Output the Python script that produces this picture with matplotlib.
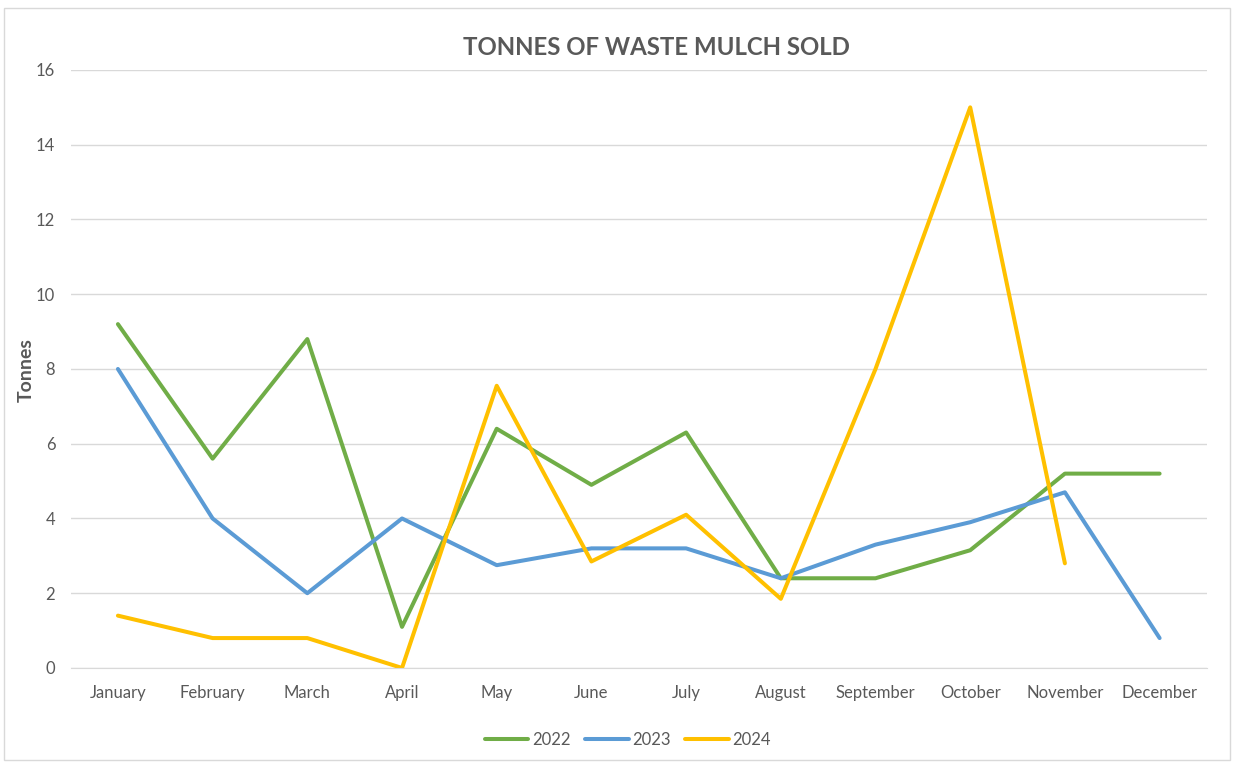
import matplotlib
matplotlib.use("Agg")
import matplotlib.pyplot as plt
from matplotlib.patches import Rectangle

plt.rcParams['font.family'] = ['Lato', 'DejaVu Sans']

# ---------------- data ----------------
months = ["January", "February", "March", "April", "May", "June",
          "July", "August", "September", "October", "November", "December"]
tonnes_2022 = [9.2, 5.6, 8.8, 1.1, 6.4, 4.9, 6.3, 2.4, 2.4, 3.15, 5.2, 5.2]
tonnes_2023 = [8.0, 4.0, 2.0, 4.0, 2.75, 3.2, 3.2, 2.4, 3.3, 3.9, 4.7, 0.8]
tonnes_2024 = [1.4, 0.8, 0.8, 0.0, 7.55, 2.85, 4.1, 1.85, 8.0, 15.0, 2.8]
y_ticks = [0, 2, 4, 6, 8, 10, 12, 14, 16]

grey_txt = "#595959"
grid_col = "#D9D9D9"

fig = plt.figure(figsize=(12.36, 7.64), dpi=100)
ax = fig.add_axes([0.0571, 0.1257, 0.9194, 0.7827])

# chart area border
fig.patches.append(Rectangle((0.003, 0.005), 0.992, 0.984, transform=fig.transFigure,
                             fill=False, edgecolor="#D9D9D9", linewidth=1))

x = list(range(len(months)))
ax.plot(x, tonnes_2022, color="#70AD47", lw=2.9, label="2022", solid_capstyle="round", solid_joinstyle="round")
ax.plot(x, tonnes_2023, color="#5B9BD5", lw=2.9, label="2023", solid_capstyle="round", solid_joinstyle="round")
ax.plot(x[:len(tonnes_2024)], tonnes_2024, color="#FFC000", lw=2.9, label="2024",
        solid_capstyle="round", solid_joinstyle="round")

ax.set_xlim(-0.5, len(months) - 0.5)
ax.set_ylim(0, 16)
ax.set_yticks(y_ticks)
ax.set_xticks(x)
ax.set_xticklabels(months)
ax.yaxis.grid(True, color=grid_col, lw=1)
ax.set_axisbelow(True)
for s in ["top", "right", "left"]:
    ax.spines[s].set_visible(False)
ax.spines["bottom"].set_color(grid_col)
ax.tick_params(axis="both", length=0, colors=grey_txt, labelsize=12)
ax.tick_params(axis="x", pad=12)
ax.tick_params(axis="y", pad=11)

# y axis title
fig.text(26 / 1236, 1 - 370 / 764, "Tonnes", rotation=90, ha="center", va="center",
         fontsize=14, fontweight="bold", color=grey_txt)

fig.text(0.531, 0.938, "TONNES OF WASTE MULCH SOLD", ha="center", va="center",
         fontsize=17.3, fontweight="bold", color=grey_txt)

leg = fig.legend(loc="center", bbox_to_anchor=(0.508, 0.031), ncol=3, frameon=False,
                 fontsize=12, handlelength=2.6, columnspacing=0.9, handletextpad=0.2)
for t in leg.get_texts():
    t.set_color(grey_txt)

fig.savefig("out.png", dpi=100)
